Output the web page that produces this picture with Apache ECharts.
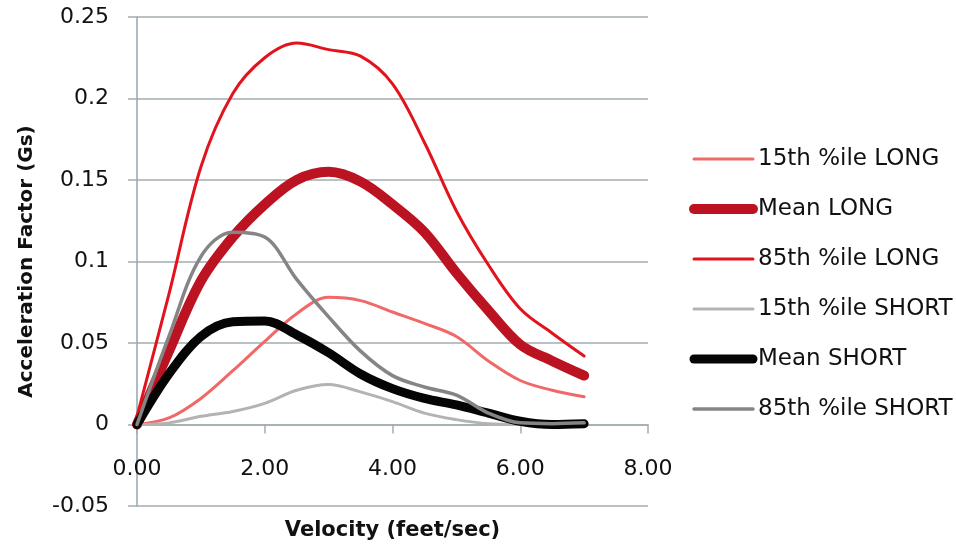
<!DOCTYPE html>
<html lang="en">
<head>
<meta charset="UTF-8">
<title>Acceleration Factor vs Velocity</title>
<style>html,body{margin:0;padding:0;background:#fff}</style>
</head>
<body>
<div id="main" style="width:956px;height:546px;"></div>
<script src="https://cdn.jsdelivr.net/npm/echarts@6/dist/echarts.min.js"></script>
<script>
// values, every 0.5 ft/s
var velocity = [0, 0.5, 1, 1.5, 2, 2.5, 3, 3.5, 4, 4.5, 5, 5.5, 6, 6.5, 7];
var long15 = [0, 0.004, 0.016, 0.033, 0.051, 0.068, 0.078, 0.076, 0.069, 0.062, 0.054, 0.039, 0.027, 0.021, 0.017];
var longMean = [0, 0.045, 0.088, 0.115, 0.135, 0.150, 0.155, 0.149, 0.135, 0.118, 0.093, 0.070, 0.049, 0.039, 0.030];
var long85 = [0.005, 0.08, 0.158, 0.203, 0.225, 0.234, 0.230, 0.226, 0.209, 0.173, 0.131, 0.098, 0.071, 0.056, 0.042];
var short15 = [0, 0.001, 0.005, 0.008, 0.013, 0.021, 0.0245, 0.020, 0.014, 0.007, 0.003, 0.0005, 0, 0, 0];
var shortMean = [0, 0.031, 0.054, 0.063, 0.0635, 0.055, 0.044, 0.031, 0.022, 0.016, 0.012, 0.007, 0.002, 0, 0.0005];
var short85 = [0, 0.054, 0.103, 0.118, 0.115, 0.089, 0.066, 0.045, 0.030, 0.023, 0.018, 0.007, 0.001, 0.0005, 0.001];

var xTicks = [0, 2, 4, 6, 8];
var yTicks = [-0.05, 0, 0.05, 0.1, 0.15, 0.2, 0.25];

var names = ['15th %ile LONG', 'Mean LONG', '85th %ile LONG', '15th %ile SHORT', 'Mean SHORT', '85th %ile SHORT'];
var values = [long15, longMean, long85, short15, shortMean, short85];
var colors = ['#F06868', '#BC1322', '#E3131D', '#B3B3B3', '#050505', '#858585'];
var widths = [3, 10, 3, 3, 9, 3.5];

function pairs(ys) {
    var out = [];
    for (var i = 0; i < velocity.length; i++) {
        out.push([velocity[i], ys[i]]);
    }
    return out;
}

var font = 'DejaVu Sans';
var gridColor = '#A3ACB0';

var series = [];
var legendData = [];
for (var i = 0; i < names.length; i++) {
    series.push({
        name: names[i],
        type: 'line',
        data: pairs(values[i]),
        smooth: 0.35,
        symbol: 'none',
        lineStyle: { color: colors[i], width: widths[i], cap: 'round', join: 'round' },
        itemStyle: { color: colors[i] },
        z: 2 + i
    });
    legendData.push({
        name: names[i],
        itemStyle: { opacity: 0 },
        lineStyle: { width: widths[i] }
    });
}

var myChart = echarts.init(document.getElementById('main'));
var option = {
    backgroundColor: '#FFFFFF',
    animation: false,
    grid: { left: 137, right: 308, top: 17, bottom: 40, containLabel: false, outerBoundsMode: 'none' },
    legend: {
        orient: 'vertical',
        left: 689,
        top: 147,
        padding: 0,
        itemWidth: 59,
        itemHeight: 14,
        itemGap: 26,
        data: legendData,
        textStyle: { fontFamily: font, fontSize: 23, color: '#111', lineHeight: 24 }
    },
    xAxis: {
        type: 'value',
        min: xTicks[0],
        max: xTicks[xTicks.length - 1],
        interval: xTicks[1] - xTicks[0],
        name: 'Velocity (feet/sec)',
        nameLocation: 'middle',
        nameGap: 14,
        nameTextStyle: { fontFamily: font, fontSize: 21, fontWeight: 'bold', color: '#111' },
        axisLine: { onZero: true, lineStyle: { color: gridColor, width: 1.5 } },
        axisTick: { show: true, length: 9, lineStyle: { color: gridColor, width: 1.5 } },
        axisLabel: {
            margin: -48, fontFamily: font, fontSize: 22, color: '#111',
            formatter: function (v) { return v.toFixed(2); }
        },
        splitLine: { show: false }
    },
    yAxis: {
        type: 'value',
        min: yTicks[0],
        max: yTicks[yTicks.length - 1],
        interval: 0.05,
        name: 'Acceleration Factor (Gs)',
        nameLocation: 'middle',
        nameGap: 100,
        nameTextStyle: { fontFamily: font, fontSize: 20, fontWeight: 'bold', color: '#111' },
        axisLine: { show: true, lineStyle: { color: '#93A6B0', width: 1.5 } },
        axisTick: { show: true, length: 9, lineStyle: { color: gridColor, width: 1.5 } },
        axisLabel: {
            margin: 28, fontFamily: font, fontSize: 22, color: '#111',
            formatter: function (v) { return String(Math.round(v * 100) / 100); }
        },
        splitLine: { show: true, lineStyle: { color: gridColor, width: 1.5 } }
    },
    series: series
};
myChart.setOption(option);
</script>
</body>
</html>
